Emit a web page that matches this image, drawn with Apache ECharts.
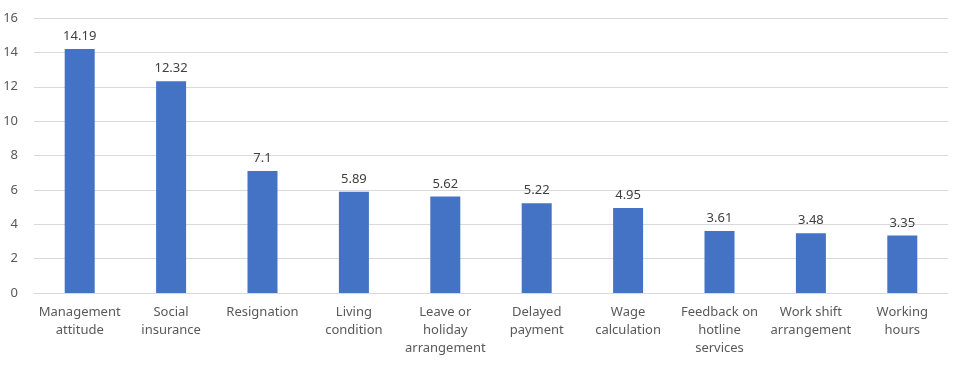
<!DOCTYPE html>
<html>
<head>
<meta charset="utf-8">
<script src="https://cdn.jsdelivr.net/npm/echarts@6/dist/echarts.min.js"></script>
<style>html,body{margin:0;padding:0;background:#fff}#c{width:961px;height:367px}</style>
</head>
<body>
<div id="c"></div>
<script>
const categories = ["Management\nattitude", "Social\ninsurance", "Resignation", "Living\ncondition", "Leave or\nholiday\narrangement", "Delayed\npayment", "Wage\ncalculation", "Feedback on\nhotline\nservices", "Work shift\narrangement", "Working\nhours"];
const values = [14.19, 12.32, 7.1, 5.89, 5.62, 5.22, 4.95, 3.61, 3.48, 3.35];
const yTicks = {min: 0, max: 16, interval: 2};

const chart = echarts.init(document.getElementById('c'), null, {renderer: 'canvas'});
const font = '"Noto Sans", "Open Sans", sans-serif';
chart.setOption({
  animation: false,
  backgroundColor: '#ffffff',
  grid: {left: 34, right: 13, top: 18, bottom: 74},
  xAxis: {
    type: 'category',
    data: categories,
    axisTick: {show: false},
    axisLine: {lineStyle: {color: '#d9d9d9', width: 1}},
    axisLabel: {color: '#595959', fontSize: 13, fontFamily: font, lineHeight: 18, interval: 0, margin: 10}
  },
  yAxis: {
    type: 'value',
    min: yTicks.min, max: yTicks.max, interval: yTicks.interval,
    axisLine: {show: false},
    axisTick: {show: false},
    splitLine: {lineStyle: {color: '#d9d9d9', width: 1}},
    axisLabel: {color: '#595959', fontSize: 13, fontFamily: font, margin: 16}
  },
  series: [{
    type: 'bar',
    data: values,
    barWidth: 30,
    itemStyle: {color: '#4472C4'},
    label: {show: true, position: 'top', color: '#404040', fontSize: 13, fontFamily: font, distance: 6}
  }]
});
</script>
</body>
</html>
